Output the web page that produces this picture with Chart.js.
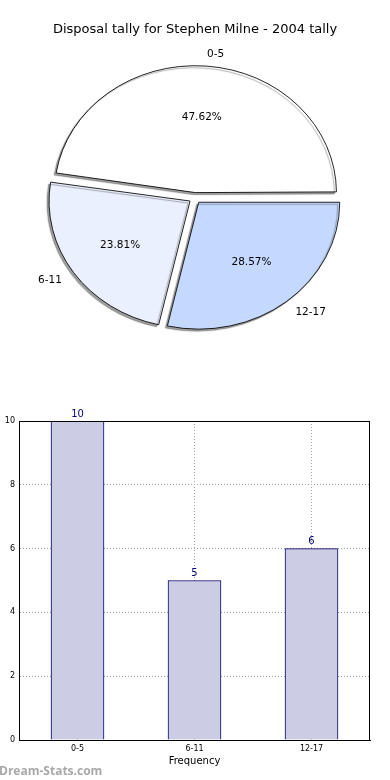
<!DOCTYPE html>
<html>
<head>
<meta charset="utf-8">
<script src="https://cdn.jsdelivr.net/npm/chart.js@4.4.1/dist/chart.umd.min.js"></script>
<style>
  html, body { margin: 0; padding: 0; background: #fff; }
  body { width: 390px; height: 780px; position: relative; overflow: hidden; }
  #pieBox { position: absolute; left: 0; top: 0; width: 390px; height: 380px; }
  #barBox { position: absolute; left: 0; top: 380px; width: 390px; height: 400px; }
  #mark { position: absolute; left: -1px; top: 762px; font: bold 12px "Open Sans", sans-serif; color: #a8a8a8; }
</style>
</head>
<body>
<div id="pieBox"><canvas id="pieChart"></canvas></div>
<div id="barBox"><canvas id="barChart"></canvas></div>
<div id="mark">Dream-Stats.com</div>
<script>
const chartTitle = 'Disposal tally for Stephen Milne - 2004 tally';
const categories = ['0-5', '6-11', '12-17'];
const tallies = [10, 5, 6];
const sliceColours = ['#ffffff', '#eaf0fe', '#c5d9ff'];
const yTickStep = 2;
const yMax = 10;

const font = 'DejaVu Sans';
const pieRadius = 141;   // horizontal radius in px
const squash = 0.9;      // pie is drawn as an ellipse
const explode = 6;       // px each slice is pushed out

document.addEventListener('DOMContentLoaded', function () {

    const total = tallies.reduce((a, b) => a + b, 0);

    // pie goes counter-clockwise from east, chart.js goes clockwise -> reverse order
    const pieLabels = categories.slice().reverse();
    const pieData = tallies.slice().reverse();
    const pieColours = sliceColours.slice().reverse();

    const pieLook = {
        id: 'pieLook',
        beforeDatasetsDraw(chart) {
            const arcs = chart.getDatasetMeta(0).data;
            // undo the radius growth chart.js adds to big offset slices
            arcs.forEach(arc => {
                const fix = 1 - Math.sin(Math.min(Math.PI, arc.circumference));
                arc.outerRadius = pieRadius - explode * fix;
            });
            const ctx = chart.ctx;
            const { x, y } = arcs[0];
            ctx.save();
            ctx.translate(x, y);
            ctx.scale(1, squash);
            ctx.translate(-x, -y);
            ctx.shadowColor = 'rgba(0,0,0,0.38)';
            ctx.shadowBlur = 1;
            ctx.shadowOffsetX = -2;
            ctx.shadowOffsetY = 2;
        },
        afterDatasetsDraw(chart) {
            const ctx = chart.ctx;
            ctx.restore();
            const arcs = chart.getDatasetMeta(0).data;
            ctx.save();
            ctx.fillStyle = '#000';
            ctx.font = '10.5px "' + font + '"';
            ctx.textBaseline = 'middle';
            arcs.forEach((arc, i) => {
                const mid = (arc.startAngle + arc.endAngle) / 2;
                const c = Math.cos(mid), s = Math.sin(mid);
                const cx = arc.x + c * explode;
                const cy = arc.y + s * explode * squash + 1;
                ctx.textAlign = c > 0 ? 'left' : 'right';
                ctx.fillText(pieLabels[i], cx + c * pieRadius * 1.1, cy + s * pieRadius * 1.1 * squash);
                ctx.textAlign = 'center';
                const pct = (pieData[i] / total * 100).toFixed(2) + '%';
                ctx.fillText(pct, cx + c * pieRadius * 0.6, cy + s * pieRadius * 0.6 * squash);
            });
            ctx.restore();
        }
    };

    new Chart(document.getElementById('pieChart'), {
        type: 'pie',
        data: {
            labels: pieLabels,
            datasets: [{
                data: pieData,
                backgroundColor: pieColours,
                borderColor: '#000',
                borderWidth: 0.9,
                offset: explode * 4,
                clip: false
            }]
        },
        options: {
            responsive: true,
            maintainAspectRatio: false,
            animation: false,
            rotation: 90,
            radius: pieRadius,
            layout: { padding: { top: 0, bottom: 21.6 } },
            plugins: {
                legend: { display: false },
                tooltip: { enabled: false },
                title: {
                    display: true,
                    text: chartTitle,
                    color: '#000',
                    font: { family: font, size: 13, weight: 'normal' },
                    padding: { top: 22, bottom: 0 }
                }
            }
        },
        plugins: [pieLook]
    });

    /**
     * Bar chart
     */
    const barExtras = {
        id: 'barExtras',
        afterDatasetsDraw(chart) {
            const ctx = chart.ctx;
            const bars = chart.getDatasetMeta(0).data;
            ctx.save();
            ctx.fillStyle = '#000080';
            ctx.font = '10px "' + font + '"';
            ctx.textAlign = 'center';
            ctx.textBaseline = 'bottom';
            bars.forEach((bar, i) => {
                ctx.fillText(String(tallies[i]), bar.x, bar.y - 2);
            });
            ctx.restore();
        },
        afterDraw(chart) {
            const { left, top, right, bottom } = chart.chartArea;
            const ctx = chart.ctx;
            ctx.save();
            ctx.strokeStyle = '#000';
            ctx.lineWidth = 1;
            ctx.strokeRect(Math.round(left) + 0.5, Math.round(top) + 0.5,
                Math.round(right - left) - 1, Math.round(bottom - top));
            // y title, mostly cut off at the left edge like the original
            ctx.translate(-3, (top + bottom) / 2);
            ctx.rotate(-Math.PI / 2);
            ctx.fillStyle = '#000';
            ctx.font = '10px "' + font + '"';
            ctx.textAlign = 'center';
            ctx.textBaseline = 'middle';
            ctx.fillText('Occurrences', 0, 0);
            ctx.restore();
        }
    };

    const gridStyle = { color: '#a0a0a0', lineWidth: 1, drawTicks: false };
    const borderStyle = { color: '#000', width: 1, dash: [1, 2] };

    new Chart(document.getElementById('barChart'), {
        type: 'bar',
        data: {
            labels: categories,
            datasets: [{
                data: tallies,
                backgroundColor: 'rgb(204,204,229)',
                borderColor: '#000066',
                borderWidth: 1,
                barThickness: 53
            }]
        },
        options: {
            responsive: true,
            maintainAspectRatio: false,
            animation: false,
            layout: { padding: { top: 41, right: 20, left: 0, bottom: 0 } },
            plugins: {
                legend: { display: false },
                tooltip: { enabled: false }
            },
            scales: {
                x: {
                    z: 1,
                    grid: Object.assign({ offset: false }, gridStyle),
                    border: borderStyle,
                    ticks: { color: '#000', font: { family: font, size: 8 }, padding: 4 },
                    title: {
                        display: true,
                        text: 'Frequency',
                        color: '#000',
                        font: { family: font, size: 10 },
                        padding: { top: 0, bottom: 13 }
                    },
                    afterFit: s => { s.height = 40; }
                },
                y: {
                    z: 1,
                    min: 0,
                    max: yMax,
                    grid: gridStyle,
                    border: borderStyle,
                    ticks: { stepSize: yTickStep, color: '#000', font: { family: font, size: 8 }, padding: 4 },
                    afterFit: s => { s.width = 19; }
                }
            }
        },
        plugins: [barExtras]
    });
});
</script>
</body>
</html>
